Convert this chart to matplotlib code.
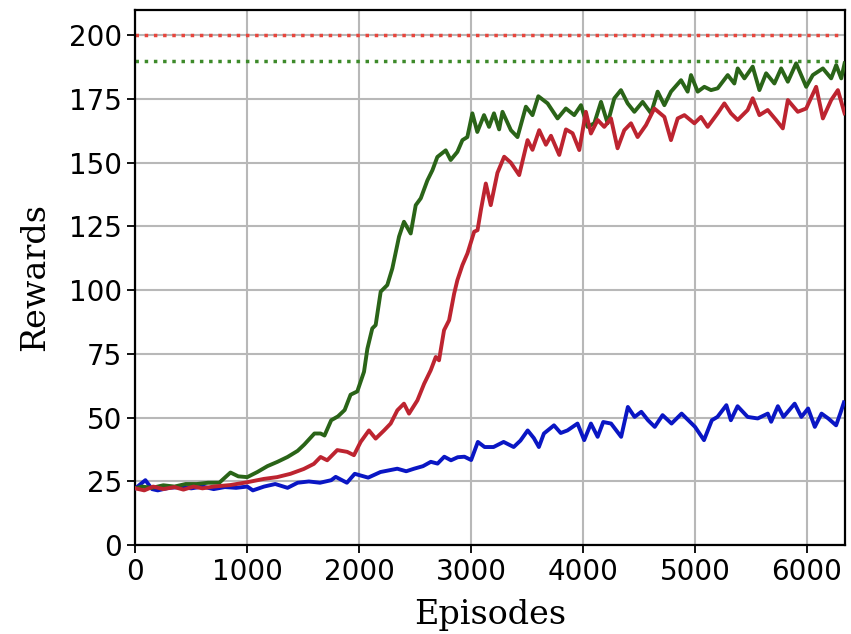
import matplotlib
matplotlib.use("Agg")
import matplotlib.pyplot as plt

# ---- data ----
blue_x = [0, 90, 150, 200, 300, 400, 500, 600, 700, 800, 900, 1000, 1050, 1150, 1250, 1360,
          1450, 1550, 1650, 1750, 1790, 1890, 1960, 2080, 2190, 2340, 2420, 2490, 2570, 2640,
          2700, 2760, 2820, 2880, 2940, 3000, 3060, 3120, 3200, 3290, 3380, 3440, 3505, 3560,
          3605, 3650, 3740, 3800, 3860, 3950, 4010, 4070, 4130, 4180, 4250, 4340, 4400, 4460,
          4520, 4580, 4640, 4710, 4790, 4880, 4940, 5000, 5080, 5150, 5200, 5280, 5320, 5380,
          5470, 5560, 5650, 5680, 5740, 5790, 5890, 5950, 6010, 6070, 6130, 6190, 6260, 6300, 6330]
blue_y = [22.3, 25.5, 22, 21.5, 22.5, 22.8, 22.3, 23, 22, 22.8, 22.5, 23, 21.5, 23, 24, 22.5,
          24.5, 25, 24.5, 25.5, 26.8, 24.5, 28, 26.5, 28.7, 30, 29, 30, 31, 32.7,
          32, 34.7, 33.3, 34.5, 34.7, 33.4, 40.5, 38.5, 38.5, 40.5, 38.5, 41, 45, 42,
          38.5, 43.8, 47, 44, 45, 47.7, 41.2, 47.7, 42.5, 48.3, 47.7, 42.5, 54.2, 50.3,
          52.3, 49, 46.4, 51, 47.7, 51.6, 49, 46.4, 41.2, 49, 50.3, 54.9, 49, 54.5,
          50.3, 49.7, 51.6, 48.4, 54.5, 50.3, 55.5, 50.3, 53.6, 46.4, 51.6, 49.7, 47, 52, 56]

green_x = [0, 60, 150, 250, 350, 450, 550, 650, 750, 850, 920, 1000, 1090, 1180, 1270, 1360,
           1450, 1510, 1600, 1655, 1690, 1750, 1810, 1870, 1923, 1983, 2043, 2073, 2117, 2147,
           2192, 2251, 2296, 2356, 2400, 2460, 2505, 2550, 2609, 2654, 2698, 2773, 2817, 2877,
           2922, 2966, 3011, 3055, 3115, 3160, 3204, 3250, 3280, 3355, 3414, 3489, 3548, 3600,
           3683, 3772, 3846, 3921, 3981, 4040, 4100, 4160, 4219, 4279, 4338, 4398, 4458, 4532,
           4607, 4666, 4726, 4785, 4875, 4934, 4964, 5024, 5083, 5143, 5202, 5292, 5351, 5381,
           5441, 5515, 5575, 5635, 5709, 5769, 5829, 5903, 5993, 6052, 6142, 6216, 6261, 6306, 6336]
green_y = [22.3, 23, 22.5, 23.5, 23, 24, 24, 24.5, 24.5, 28.5, 27, 26.7, 28.7, 31, 32.7, 34.6,
           37, 39.5, 43.8, 43.8, 43, 49, 50.5, 53, 59, 60.3, 68, 77, 85, 86.3,
           99.4, 102, 108.5, 121, 126.8, 122.2, 133.3, 136, 143, 147, 152.2, 154.8, 151, 154.2,
           158.8, 160, 169.3, 162, 168.6, 164, 169.3, 163, 169.9, 162.7, 160, 171.9, 168.6, 176,
           173.2, 167.3, 171.2, 168.6, 172.5, 164, 165.4, 173.8, 165.4, 175.2, 178.4, 173.2, 169.9, 173.8,
           169.3, 177.8, 172.5, 177.8, 182.3, 177.8, 184.3, 177.8, 179.7, 178.4, 179.1, 184.3, 181, 186.9,
           183, 187.6, 178.4, 185, 181, 186.9, 181.7, 188.9, 179.7, 184.3, 186.9, 183, 188.2, 183, 188.9]

red_x = [0, 80, 160, 250, 350, 430, 520, 600, 700, 850, 1000, 1148, 1267, 1386, 1505, 1595,
         1655, 1714, 1804, 1893, 1953, 2013, 2087, 2147, 2222, 2281, 2341, 2400, 2445, 2520,
         2580, 2639, 2684, 2713, 2758, 2803, 2848, 2877, 2922, 2967, 3027, 3057, 3087, 3131,
         3175, 3235, 3295, 3354, 3429, 3504, 3548, 3608, 3668, 3713, 3787, 3847, 3906, 3966,
         4025, 4070, 4130, 4189, 4249, 4308, 4368, 4428, 4487, 4562, 4636, 4726, 4785, 4845,
         4905, 4994, 5053, 5113, 5202, 5262, 5321, 5381, 5470, 5515, 5575, 5649, 5724, 5784,
         5829, 5918, 5993, 6082, 6142, 6216, 6276, 6336]
red_y = [22.3, 21.5, 23, 22, 22.8, 21.8, 23, 22.3, 23, 23.6, 24.7, 26, 26.7, 28, 29.9, 31.9,
         34.6, 33.3, 37.3, 36.6, 35.3, 40.5, 45, 41.8, 45, 47.7, 52.9, 55.5, 51.6, 56.8,
         63.3, 68.6, 73.8, 72.5, 84.3, 88.2, 98.6, 103.9, 109.8, 114.4, 122.9, 123.5, 131.4, 141.8,
         133.3, 146, 152.3, 150, 145.1, 158.8, 155, 162.7, 157, 160.5, 153, 163, 161.5, 154.9,
         169.9, 161.4, 166.7, 164, 167.3, 155.6, 162.7, 165.4, 160, 164.7, 171.2, 167.9, 158.8, 167.3,
         168.6, 165.4, 167.9, 164, 169.3, 173.2, 169.3, 166.7, 170.6, 175.2, 168.6, 170.6, 166.7, 163.4,
         174.5, 169.9, 171.2, 179.7, 167.3, 174.5, 178.4, 169.3]

ref_levels = [200, 190]
ref_colors = ["#e8453c", "#3d8a2a"]

x_ticks = [0, 1000, 2000, 3000, 4000, 5000, 6000]
y_ticks = [0, 25, 50, 75, 100, 125, 150, 175, 200]

# ---- figure ----
fig = plt.figure(figsize=(8.51, 6.34), dpi=100)
ax = fig.add_axes([0.159, 0.14, 0.834, 0.845])

ax.grid(True, color="#b8b8b8", linewidth=1.5, zorder=0)
ax.set_axisbelow(True)

for lvl, c in zip(ref_levels, ref_colors):
    ax.axhline(lvl, color=c, linestyle=":", linewidth=2.5, zorder=2)

ax.plot(blue_x, blue_y, color="#0a16c4", linewidth=2.8, zorder=3)
ax.plot(green_x, green_y, color="#2a6418", linewidth=2.8, zorder=4)
ax.plot(red_x, red_y, color="#bd2430", linewidth=2.8, zorder=5)

ax.set_xlim(0, 6340)
ax.set_ylim(0, 210)
ax.set_xticks(x_ticks)
ax.set_yticks(y_ticks)
ax.tick_params(axis="both", labelsize=20, width=1.3, length=6, colors="black")
for s in ax.spines.values():
    s.set_linewidth(1.6)
    s.set_color("black")

ax.set_xlabel("Episodes", fontsize=24, family="DejaVu Serif", labelpad=9)
ax.set_ylabel("Rewards", fontsize=24, family="DejaVu Serif", labelpad=13)

fig.savefig("out.png", dpi=100)
